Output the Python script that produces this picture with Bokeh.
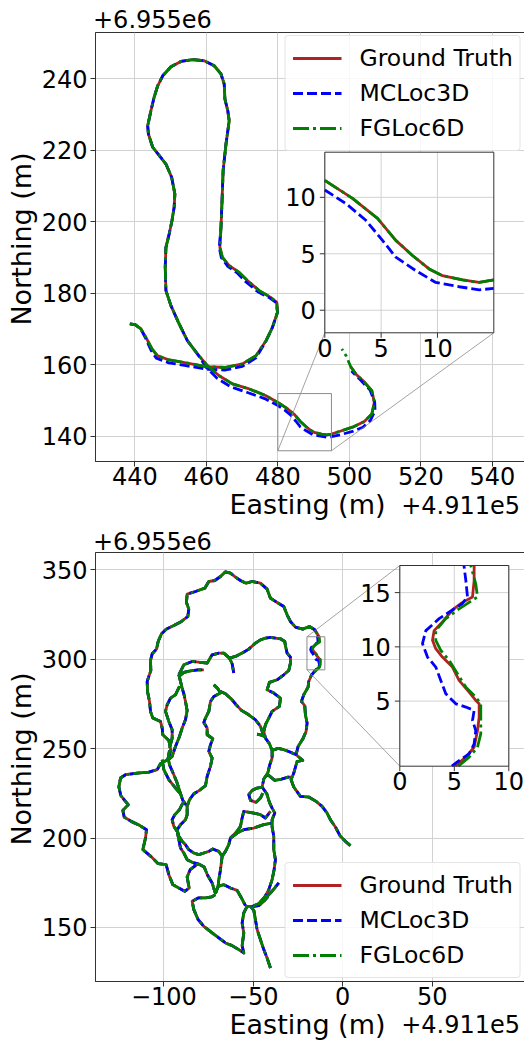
import numpy as np
from bokeh.plotting import figure
from bokeh.layouts import column, row
from bokeh.models import Range1d, FixedTicker, ColumnDataSource, Div
from bokeh.core.properties import value
from bokeh.embed import file_html
from bokeh.resources import INLINE

FONT = "DejaVu Sans"
GT_COLOR, MC_COLOR, FG_COLOR = "#b22222", "#0000ff", "#008000"
LW = 2.8
FW, FH = 429, 429
PAGE_W = 524
YLAB_W = 38
TICK_PX = 24
LABEL_PX = 27

# ---------------- top plot data (Easting-491100, Northing-6955000) ----------------
top_x_ticks = [440, 460, 480, 500, 520, 540]
top_y_ticks = [140, 160, 180, 200, 220, 240]
top_inset_x_ticks = [0, 5, 10]
top_inset_y_ticks = [0, 5, 10]

top_gt_head_x = [438.6, 440.1, 441.7, 443.1, 444.8, 446.3, 449.6, 454.3, 460.3, 465.4, 470.1, 473.9,
                 476.7, 478.5, 479.9, 479.7, 478.0, 474.8, 471.5, 469.2, 466.4, 464.5, 463.8]
top_gt_head_y = [171.5, 171.3, 170.1, 167.7, 164.5, 162.6, 161.4, 160.6, 159.5, 159.3, 160.3, 162.6,
                 166.8, 170.5, 174.7, 177.5, 178.9, 180.8, 183.6, 185.9, 187.8, 190.1, 192.9]
top_loop_x = [464.1, 464.4, 464.7, 465.5, 466.4, 466.0, 465.2, 465.0, 464.1, 462.2, 459.4, 456.2,
              452.9, 450.1, 447.8, 446.4, 445.4, 444.5, 443.6, 443.8, 445.0, 446.8, 448.7, 450.3,
              451.2, 451.0, 450.4, 449.6, 448.7, 448.5, 448.7, 450.1, 452.2, 454.7, 457.5]
top_loop_y = [198.5, 206.0, 214.4, 221.8, 228.3, 231.1, 234.4, 238.6, 241.4, 243.7, 245.1, 245.4,
              244.9, 243.4, 240.9, 238.1, 234.9, 231.1, 226.9, 224.6, 220.9, 218.6, 216.2, 212.5,
              207.8, 204.1, 200.4, 196.6, 192.9, 187.3, 180.8, 176.6, 171.9, 166.8, 163.1]
top_gt_tail_x = [460.3, 463.6, 467.3, 472.0, 476.7, 480.0, 482.46, 484.68, 486.30, 487.78, 489.26,
                 490.44, 492.22, 493.70, 495.0, 497.2, 500.9, 504.2, 506.3, 507.0, 506.3, 504.2,
                 501.8, 500.4]
top_gt_tail_y = [159.8, 157.0, 154.7, 153.3, 151.4, 149.5, 147.91, 146.13, 144.19, 142.85, 141.66,
                 141.06, 140.68, 140.46, 140.68, 141.4, 142.6, 144.2, 146.3, 149.6, 152.8, 155.2,
                 157.5, 159.5]
top_mc_head_x = [438.6, 440.1, 441.7, 443.0, 444.6, 446.0, 449.5, 454.3, 460.3, 465.4, 470.1, 473.9,
                 476.6, 478.4, 479.9, 479.6, 477.8, 474.4, 471.0, 468.8, 466.0, 464.2, 463.6]
top_mc_head_y = [171.5, 171.3, 170.0, 167.5, 164.0, 161.9, 160.6, 159.8, 158.8, 158.6, 159.6, 162.0,
                 166.5, 170.3, 174.7, 177.4, 178.7, 180.5, 183.3, 185.6, 187.6, 190.0, 192.9]
top_mc_tail_x = [460.0, 463.0, 466.8, 471.5, 476.3, 480.0, 481.86, 483.64, 485.12, 486.30, 488.07,
                 489.85, 491.92, 493.70, 495.0, 497.5, 500.9, 503.8, 505.9, 507.2, 507.1, 505.8,
                 503.0, 500.6]
top_mc_tail_y = [159.3, 156.3, 153.9, 152.3, 150.6, 148.65, 147.46, 145.97, 144.19, 142.70, 141.51,
                 140.46, 140.08, 139.81, 139.93, 140.5, 141.4, 142.6, 144.5, 147.2, 149.6, 153.0,
                 155.9, 158.3]
top_fg_end_x = [499.1, 497.9]
top_fg_end_y = [162.6, 164.5]

# ---------------- bottom plot data ----------------
bot_x_ticks = [-100, -50, 0, 50]
bot_y_ticks = [150, 200, 250, 300, 350]
bot_inset_x_ticks = [0, 5, 10]
bot_inset_y_ticks = [5, 10, 15]

s1a_x = [4.28, 1.49, -1.30, -4.10, -6.89, -8.75, -11.55, -14.90, -19.00, -23.65, -27.38, -28.87,
         -27.38, -25.52, -22.35, -26.07, -24.96, -22.35, -20.48, -19.92, -20.86, -21.23, -23.09,
         -21.79, -19.37, -19.00, -17.50]
s1a_y = [195.72, 198.15, 200.93, 206.15, 210.25, 213.97, 217.70, 220.49, 222.91, 223.28, 228.50,
         232.59, 236.32, 242.84, 243.39, 246.56, 251.21, 255.31, 259.59, 264.25, 268.90, 273.93,
         276.35, 280.08, 284.36, 287.53, 291.00]
gt_box_x = [-14.86, -13.94, -13.18, -12.87, -12.72, -12.72, -13.03, -13.64, -14.56, -15.17, -16.09,
            -16.70, -17.00, -16.85, -16.09, -15.17, -14.25, -13.33, -13.18, -13.18]
gt_box_y = [294.06, 294.83, 295.75, 297.29, 298.52, 299.75, 300.06, 300.83, 301.91, 303.14, 304.06,
            304.83, 305.60, 306.50, 307.30, 308.40, 309.10, 309.60, 311.10, 312.50]
mc_box_x = [-15.17, -14.56, -13.64, -13.18, -13.03, -13.33, -13.18, -13.94, -14.86, -15.78, -16.24,
            -16.70, -17.46, -17.92, -17.61, -16.39, -15.17, -14.25, -13.79, -13.94, -14.10]
mc_box_y = [294.06, 294.52, 295.14, 296.06, 297.29, 298.22, 299.14, 299.45, 299.75, 300.68, 301.91,
            303.14, 304.06, 305.30, 306.50, 307.60, 308.40, 309.00, 309.60, 311.10, 312.40]
fg_box_x = [-14.56, -13.64, -12.87, -12.57, -12.57, -12.57, -13.03, -13.94, -14.71, -15.47, -16.24,
            -16.70, -16.70, -15.78, -14.56, -13.64, -12.87, -13.03, -13.49]
fg_box_y = [294.06, 294.83, 295.75, 297.00, 298.22, 299.75, 300.37, 301.29, 302.52, 303.75, 304.68,
            305.60, 306.50, 307.60, 308.50, 309.10, 309.60, 310.80, 312.50]
s1b_x = [-15.64, -18.62, -22.35, -26.44, -29.24, -31.10, -32.96, -36.69, -40.41, -42.27, -46.00,
         -50.65, -54.00, -57.17, -59.96, -62.75, -65.55, -68.34, -71.51, -74.86, -77.10, -82.31,
         -86.97, -87.34, -86.04, -86.60, -90.13, -94.42, -98.70, -101.31, -103.17, -104.10, -106.52,
         -107.45, -107.27, -109.31, -109.13, -108.01, -107.45, -106.15, -101.87, -100.93, -100.56,
         -97.21, -96.09, -97.95, -101.87, -103.73, -108.38, -114.90, -121.42, -124.21, -125.14,
         -124.02, -119.93, -122.91, -122.17, -118.25, -113.60, -109.69, -110.25, -111.74, -107.27,
         -103.17, -98.70, -97.21, -94.98, -88.27, -85.85, -86.97, -85.29, -80.82, -77.47, -75.61,
         -73.00, -71.14]
s1b_y = [316.39, 318.25, 316.76, 317.88, 321.05, 324.77, 329.43, 331.66, 334.08, 339.11, 342.46,
         343.39, 342.46, 343.95, 345.81, 348.05, 348.79, 346.19, 343.95, 343.39, 339.67, 337.81,
         336.32, 331.66, 327.94, 323.84, 321.05, 318.81, 316.76, 314.15, 309.87, 305.59, 302.98,
         299.26, 293.67, 287.53, 281.94, 276.35, 270.77, 267.04, 265.18, 261.46, 257.73, 254.57,
         248.98, 243.77, 241.53, 238.18, 236.88, 236.32, 235.39, 233.53, 228.50, 223.66, 218.62,
         215.46, 211.73, 209.31, 207.08, 204.66, 200.00, 193.49, 189.76, 185.67, 185.11, 179.52,
         173.94, 170.21, 172.07, 178.22, 182.31, 185.67, 183.80, 179.34, 174.87, 168.91]
s2_x = [-71.14, -73.37, -76.73, -80.82, -84.17, -83.24, -80.82, -77.66, -73.37, -69.28, -65.55,
        -61.83, -58.10, -55.31, -56.24, -55.31, -56.24, -55.31, -53.45, -49.72, -46.93, -44.14, -41.72]
s2_y = [168.35, 167.05, 166.49, 166.49, 164.63, 159.97, 154.38, 150.66, 147.31, 144.14, 141.35,
        139.86, 137.63, 135.76, 139.86, 146.93, 152.52, 158.11, 161.83, 161.83, 162.21, 164.63, 167.43]
s3_x = [-71.14, -69.65, -66.48, -62.76, -59.03, -56.61, -54.38]
s3_y = [168.91, 172.99, 173.92, 172.06, 170.75, 166.49, 162.21]
s4_x = [-51.59, -49.72, -48.79, -47.86, -46.00, -44.14, -42.28, -40.41]
s4_y = [161.83, 159.60, 154.38, 148.80, 143.21, 137.63, 132.97, 127.38]
s5a_x = [-91.62, -88.83, -84.17, -79.52, -75.79, -73.00, -69.28, -66.48, -63.32, -61.83, -60.90]
s5a_y = [291.25, 296.84, 298.70, 298.14, 297.77, 302.42, 303.36, 303.36, 300.57, 297.40, 292.18]
s5b_x = [-63.32, -59.97, -56.24, -52.52, -48.79, -45.99, -43.20, -40.41, -37.62, -34.83, -32.40,
         -32.03, -31.10, -29.24, -29.24, -30.17, -32.96, -36.69, -40.97, -42.27, -38.55, -34.83,
         -35.38, -39.48, -41.34, -43.20, -44.14, -43.20, -40.97, -39.48, -39.48, -40.78, -41.90,
         -44.14, -45.07, -42.46, -40.97, -39.48, -37.99, -39.48, -39.48, -38.55, -38.55, -37.62,
         -38.37, -39.48, -41.34, -43.58, -46.93, -50.28]
s5b_y = [300.57, 301.49, 303.36, 305.59, 308.94, 310.80, 311.74, 312.11, 311.74, 311.36, 309.87,
         307.45, 303.36, 301.12, 297.77, 293.67, 291.25, 288.46, 286.97, 282.87, 281.01, 278.22,
         273.56, 270.77, 267.04, 263.32, 259.59, 255.87, 252.70, 248.98, 244.69, 240.97, 236.32,
         232.96, 228.50, 224.77, 219.93, 216.76, 213.97, 210.25, 206.15, 200.93, 193.48, 187.90,
         182.31, 176.72, 171.14, 167.04, 163.32, 161.83]
s5c_x = [-91.25, -88.83, -85.11, -80.82, -77.66]
s5c_y = [290.69, 292.55, 293.48, 294.04, 294.04]
s6_x = [-91.62, -90.69, -89.76, -88.83, -87.90, -86.97, -87.90, -89.76, -91.25, -93.48, -95.35, -97.95]
s6_y = [291.25, 287.53, 283.80, 280.64, 276.35, 271.33, 266.11, 261.46, 256.80, 251.21, 245.62, 243.39]
s7_x = [-91.25, -93.48, -96.28, -98.14, -99.07, -97.21, -95.35, -95.35, -96.84]
s7_y = [284.73, 280.08, 278.22, 274.49, 270.77, 265.18, 260.52, 255.87, 250.28]
s8_x = [-100.93, -100.00, -97.21, -93.48, -90.69, -89.39, -86.97, -86.97, -87.90, -90.69, -92.55,
        -91.62, -89.76, -87.90, -86.04, -83.24, -80.45, -77.66, -74.86, -72.63, -69.28, -67.41,
        -68.34, -69.28, -69.65]
s8_y = [243.77, 238.18, 232.59, 227.94, 224.77, 221.05, 217.70, 213.04, 210.25, 207.46, 204.66,
        200.93, 198.14, 196.28, 193.48, 191.62, 190.69, 191.62, 192.55, 193.86, 192.55, 189.76,
        182.31, 176.72, 172.99]
s9_x = [-89.39, -91.25, -93.86, -95.35, -94.42, -92.55, -91.62, -90.69, -88.83, -86.97, -83.24, -80.82]
s9_y = [219.56, 215.83, 213.04, 210.25, 206.52, 203.73, 199.07, 194.41, 191.62, 187.90, 186.04, 185.67]
s10_x = [-72.07, -69.65, -68.34, -72.07, -73.93, -74.86, -76.73, -77.66, -75.79, -75.79, -72.63,
         -73.93, -74.86, -73.00, -73.93, -75.79, -76.73, -80.08, -83.24, -85.66, -86.97]
s10_y = [285.66, 283.24, 281.01, 279.15, 276.35, 270.77, 267.04, 264.62, 261.46, 257.73, 255.50,
         252.15, 248.42, 244.69, 240.04, 234.45, 229.24, 226.63, 224.77, 221.42, 217.70]
s11_x = [-68.34, -65.55, -62.20, -59.59, -56.61, -52.52, -48.79, -45.99, -44.69, -44.14]
s11_y = [281.94, 280.64, 277.66, 274.49, 271.33, 268.90, 266.11, 262.39, 258.66, 256.80]
s12_x = [-39.48, -36.13, -32.96, -29.80, -26.07]
s12_y = [248.98, 250.10, 249.36, 248.24, 246.56]
s13_x = [-41.90, -37.99, -34.27, -30.54, -28.31]
s13_y = [235.39, 232.22, 232.96, 234.08, 234.08]
s14_x = [-47.86, -45.44, -43.58]
s14_y = [258.10, 257.54, 256.80]
s15_x = [-67.41, -65.55, -63.69, -62.76, -59.03, -57.17, -56.24, -55.31, -49.72, -46.00, -43.20, -40.41]
s15_y = [189.76, 192.55, 196.28, 200.00, 203.73, 206.52, 211.18, 214.90, 213.97, 213.04, 211.18, 214.90]
s16_x = [-62.76, -59.03, -55.31, -49.72, -44.14, -39.48]
s16_y = [200.00, 202.80, 204.66, 205.59, 207.46, 208.39]
s17_x = [-45.07, -47.86, -50.65, -52.52, -51.59, -48.42, -46.00, -44.69]
s17_y = [228.50, 227.94, 226.63, 224.21, 221.05, 219.93, 222.35, 225.14]
s18_x = [-43.20, -40.41, -37.99, -35.76]
s18_y = [166.48, 169.28, 172.07, 174.87]
s19_x = [-96.84, -97.58, -96.84, -94.42, -92.55, -91.25, -89.39]
s19_y = [248.98, 244.69, 240.97, 235.39, 230.71, 226.63, 221.05]


def join(*strokes):
    X, Y = [], []
    for xs, ys in strokes:
        n = min(len(xs), len(ys))
        if X:
            X.append(np.nan)
            Y.append(np.nan)
        X += list(xs[:n])
        Y += list(ys[:n])
    return np.array(X, dtype=float), np.array(Y, dtype=float)


def clip_seg(ax, ay, bx, by, x0, x1, y0, y1):
    dx, dy = bx - ax, by - ay
    t0, t1 = 0.0, 1.0
    for p_, q_ in ((-dx, ax - x0), (dx, x1 - ax), (-dy, ay - y0), (dy, y1 - ay)):
        if p_ == 0:
            if q_ < 0:
                return None
        else:
            t = q_ / p_
            if p_ < 0:
                t0 = max(t0, t)
            else:
                t1 = min(t1, t)
    if t0 > t1:
        return None
    return ax + t0 * dx, ay + t0 * dy, ax + t1 * dx, ay + t1 * dy


def clip_polyline(xs, ys, x0, x1, y0, y1):
    ox, oy = [], []
    for i in range(len(xs) - 1):
        ax, ay, bx, by = xs[i], ys[i], xs[i + 1], ys[i + 1]
        if np.isnan(ax) or np.isnan(bx):
            if ox and not np.isnan(ox[-1]):
                ox.append(np.nan); oy.append(np.nan)
            continue
        seg = clip_seg(ax, ay, bx, by, x0, x1, y0, y1)
        if seg is None:
            if ox and not np.isnan(ox[-1]):
                ox.append(np.nan); oy.append(np.nan)
            continue
        sx0, sy0, sx1, sy1 = seg
        if ox and not np.isnan(ox[-1]) and abs(ox[-1] - sx0) < 1e-9 and abs(oy[-1] - sy0) < 1e-9:
            ox.append(sx1); oy.append(sy1)
        else:
            if ox and not np.isnan(ox[-1]):
                ox.append(np.nan); oy.append(np.nan)
            ox += [sx0, sx1]; oy += [sy0, sy1]
    return np.array(ox, dtype=float), np.array(oy, dtype=float)


STYLES = [("Ground Truth", GT_COLOR, "solid"),
          ("MCLoc3D", MC_COLOR, "10 4"),
          ("FGLoc6D", FG_COLOR, "16 4 3 4")]


def make_fig(xr, yr, xticks, yticks, overrides=None):
    p = figure(x_range=Range1d(*xr), y_range=Range1d(*yr), frame_width=FW, frame_height=FH,
               min_border_left=93 - YLAB_W, min_border_right=2, min_border_top=2,
               min_border_bottom=33, output_backend="svg", toolbar_location=None, tools="")
    p.outline_line_color = "#333333"
    p.outline_line_width = 1
    p.background_fill_color = "white"
    p.border_fill_color = "white"
    p.xaxis.major_label_text_font = FONT
    p.yaxis.major_label_text_font = FONT
    p.xaxis.major_label_text_font_size = f"{TICK_PX}px"
    p.yaxis.major_label_text_font_size = f"{TICK_PX}px"
    p.xaxis.major_label_text_color = "black"
    p.yaxis.major_label_text_color = "black"
    for axs in (p.xaxis, p.yaxis):
        axs.major_tick_out = 5
        axs.major_tick_in = 0
        axs.minor_tick_out = 0
        axs.minor_tick_in = 0
        axs.axis_line_color = "#333333"
        axs.major_tick_line_color = "#333333"
    p.xaxis.ticker = FixedTicker(ticks=xticks, minor_ticks=[])
    p.yaxis.ticker = FixedTicker(ticks=yticks, minor_ticks=[])
    p.xaxis.major_label_standoff = 0
    p.yaxis.major_label_standoff = 3
    if overrides:
        p.xaxis.major_label_overrides = overrides
    p.grid.grid_line_color = "#d2d2d2"
    p.grid.grid_line_width = 1
    return p


FONT_CSS = "font-family:'DejaVu Sans',sans-serif;color:#000;white-space:nowrap;"


def make_div(height, items):
    html = f'<div style="position:relative;width:{PAGE_W}px;height:{height}px;{FONT_CSS}">'
    for (left, width, align, top, txt, size) in items:
        style = (f"position:absolute;left:{left}px;width:{width}px;text-align:{align};"
                 f"top:{top}px;font-size:{size}px;line-height:{size}px;margin:0;padding:0;")
        html += f'<div style="{style}">{txt}</div>'
    html += "</div>"
    return Div(text=html, width=PAGE_W, height=height, margin=0, styles={"overflow": "visible"})


def make_ylabel(height, cx, cy, txt, size):
    html = (f'<div style="position:relative;width:{YLAB_W}px;height:{height}px;{FONT_CSS}">'
            f'<div style="position:absolute;left:{cx}px;top:{cy}px;'
            f'transform:translate(-50%,-50%) rotate(-90deg);font-size:{size}px;'
            f'line-height:{size}px;margin:0;padding:0;">{txt}</div></div>')
    return Div(text=html, width=YLAB_W, height=height, margin=0, styles={"overflow": "visible"})


def px_to_data(p, u, v):
    xr, yr = p.x_range, p.y_range
    return (xr.start + u * (xr.end - xr.start) / FW, yr.end - v * (yr.end - yr.start) / FH)


def add_inset(p, name, box_px, xlim, ylim, origin, rect, series, xt, yt, corners):
    L, T, R, B = box_px
    sx = (xlim[1] - xlim[0]) / (R - L)
    sy = (ylim[1] - ylim[0]) / (B - T)
    p.extra_x_ranges[name] = Range1d(xlim[0] - L * sx, xlim[1] + (FW - R) * sx)
    p.extra_y_ranges[name] = Range1d(ylim[0] - (FH - B) * sy, ylim[1] + T * sy)
    kw = dict(x_range_name=name, y_range_name=name)
    rx0, rx1, ry0, ry1 = rect
    p.quad(left=rx0, right=rx1, bottom=ry0, top=ry1, fill_color=None,
           line_color="#8c8c8c", line_width=1)
    inset_pts = {"tl": px_to_data(p, L, T), "tr": px_to_data(p, R, T),
                 "bl": px_to_data(p, L, B), "br": px_to_data(p, R, B)}
    rect_pts = {"tl": (rx0, ry1), "tr": (rx1, ry1), "bl": (rx0, ry0), "br": (rx1, ry0)}
    for c in corners:
        p.segment(x0=rect_pts[c][0], y0=rect_pts[c][1], x1=inset_pts[c][0], y1=inset_pts[c][1],
                  line_color="#8c8c8c", line_width=0.8)
    p.quad(left=xlim[0], right=xlim[1], bottom=ylim[0], top=ylim[1], fill_color="white",
           line_color=None, **kw)
    for gx in xt:
        p.segment(x0=gx, y0=ylim[0], x1=gx, y1=ylim[1], line_color="#d2d2d2", line_width=1, **kw)
    for gy in yt:
        p.segment(x0=xlim[0], y0=gy, x1=xlim[1], y1=gy, line_color="#d2d2d2", line_width=1, **kw)
    for (lab, col, dash), (xs, ys) in zip(STYLES, series):
        cx, cy = clip_polyline(xs - origin[0], ys - origin[1], xlim[0], xlim[1], ylim[0], ylim[1])
        p.line(cx, cy, line_color=col, line_dash=dash, line_width=LW, line_join="round", **kw)
    p.quad(left=xlim[0], right=xlim[1], bottom=ylim[0], top=ylim[1], fill_color=None,
           line_color="#333333", line_width=1, **kw)
    tick = 5.0
    p.segment(x0=xt, y0=[ylim[0]] * len(xt), x1=xt, y1=[ylim[0] - tick * sy] * len(xt),
              line_color="#333333", line_width=1, **kw)
    p.segment(x0=[xlim[0]] * len(yt), y0=yt, x1=[xlim[0] - tick * sx] * len(yt), y1=yt,
              line_color="#333333", line_width=1, **kw)
    src_x = ColumnDataSource(dict(x=xt, y=[ylim[0]] * len(xt), t=[str(v) for v in xt]))
    p.text(x="x", y="y", text="t", source=src_x, text_align="center", text_baseline="top",
           y_offset=6, text_font=value(FONT), text_font_size=f"{TICK_PX}px", text_color="black", **kw)
    src_y = ColumnDataSource(dict(x=[xlim[0]] * len(yt), y=yt, t=[str(v) for v in yt]))
    p.text(x="x", y="y", text="t", source=src_y, text_align="right", text_baseline="middle",
           x_offset=-9, text_font=value(FONT), text_font_size=f"{TICK_PX}px", text_color="black", **kw)


def style_legend(p, loc):
    lg = p.legend[0]
    lg.location = loc
    lg.label_text_font = FONT
    lg.label_text_font_size = "23.5px"
    lg.label_text_color = "black"
    lg.glyph_width = 49
    lg.glyph_height = 30
    lg.label_height = 30
    lg.label_standoff = 18
    lg.spacing = 5
    lg.padding = 7
    lg.margin = 3
    lg.border_line_color = "#cccccc"
    lg.border_line_width = 1
    lg.background_fill_alpha = 0.85
    if "border_radius" in lg.properties():
        lg.border_radius = 4


# ---------------- top figure ----------------
top_series = [
    join((top_gt_head_x + top_loop_x + top_gt_tail_x, top_gt_head_y + top_loop_y + top_gt_tail_y)),
    join((top_mc_head_x + top_loop_x + top_mc_tail_x, top_mc_head_y + top_loop_y + top_mc_tail_y)),
    join((top_gt_head_x + top_loop_x + top_gt_tail_x + top_fg_end_x,
          top_gt_head_y + top_loop_y + top_gt_tail_y + top_fg_end_y)),
]
p1 = make_fig((429.0, 549.0), (133.0, 253.0), top_x_ticks, top_y_ticks)
for (lab, col, dash), (xs, ys) in zip(STYLES, top_series):
    p1.line(xs, ys, line_color=col, line_dash=dash, line_width=LW, line_join="round", legend_label=lab)
add_inset(p1, "inset1", (229.3, 119.7, 398.3, 300.3), (0, 15), (-2, 14), (480.0, 138.0),
          (480.0, 495.0, 136.0, 152.0), top_series, top_inset_x_ticks, top_inset_y_ticks,
          ["bl", "br"])
style_legend(p1, "top_right")

# ---------------- bottom figure ----------------
others = [(s2_x, s2_y), (s3_x, s3_y), (s4_x, s4_y), (s5a_x, s5a_y), (s5b_x, s5b_y), (s5c_x, s5c_y),
          (s6_x, s6_y), (s7_x, s7_y), (s8_x, s8_y), (s9_x, s9_y), (s10_x, s10_y), (s11_x, s11_y),
          (s12_x, s12_y), (s13_x, s13_y), (s14_x, s14_y), (s15_x, s15_y), (s16_x, s16_y),
          (s17_x, s17_y), (s18_x, s18_y), (s19_x, s19_y)]
bot_series = [
    join((s1a_x + gt_box_x + s1b_x, s1a_y + gt_box_y + s1b_y), *others),
    join((s1a_x + mc_box_x + s1b_x, s1a_y + mc_box_y + s1b_y), *others),
    join((s1a_x + fg_box_x + s1b_x, s1a_y + fg_box_y + s1b_y), *others),
]
p2 = make_fig((-138.2, 101.6), (119.8, 359.6), bot_x_ticks, bot_y_ticks,
              overrides={-100: "\u2212100", -50: "\u221250"})
for (lab, col, dash), (xs, ys) in zip(STYLES, bot_series):
    p2.line(xs, ys, line_color=col, line_dash=dash, line_width=LW, line_join="round", legend_label=lab)
add_inset(p2, "inset2", (304.3, 13.0, 413.3, 213.7), (0, 10), (-1, 17.5), (-20.0, 295.0),
          (-20.0, -10.0, 294.0, 312.5), bot_series, bot_inset_x_ticks, bot_inset_y_ticks,
          ["tl", "bl"])
style_legend(p2, "bottom_right")

# ---------------- texts outside the frames ----------------
FIG_H = 2 + FH + 33
div0 = make_div(30, [(93, 300, "left", 8, "+6.955e6", TICK_PX)])
div1 = make_div(56, [(93, FW, "center", -3, "Easting (m)", LABEL_PX),
                     (300, 220, "right", 0, "+4.911e5", TICK_PX),
                     (93, 300, "left", 36, "+6.955e6", TICK_PX)])
div2 = make_div(26, [(93, FW, "center", -3, "Easting (m)", LABEL_PX),
                     (300, 220, "right", -1, "+4.911e5", TICK_PX)])
ylab1 = make_ylabel(FIG_H, 21, 209, "Northing (m)", LABEL_PX)
ylab2 = make_ylabel(FIG_H, 21, 209, "Northing (m)", LABEL_PX)

layout = column(div0, row(ylab1, p1, spacing=0), div1, row(ylab2, p2, spacing=0), div2, spacing=0)
open("out.html", "w").write(file_html(layout, INLINE))
